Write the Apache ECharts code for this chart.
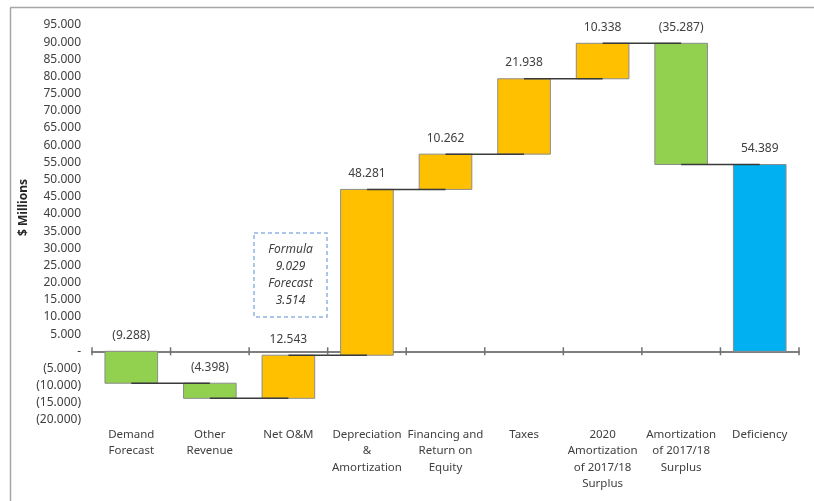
<!DOCTYPE html>
<html>
<head>
<meta charset="utf-8">
<script src="https://cdn.jsdelivr.net/npm/echarts@6/dist/echarts.min.js"></script>
<style>
  html, body { margin: 0; padding: 0; background: #fff; }
  #chart { width: 814px; height: 501px; }
</style>
</head>
<body>
<div id="chart"></div>
<script>
// categories (x axis labels, wrapped like the original)
var categories = [
  "Demand\nForecast",
  "Other\nRevenue",
  "Net O&M",
  "Depreciation\n&\nAmortization",
  "Financing and\nReturn on\nEquity",
  "Taxes",
  "2020\nAmortization\nof 2017/18\nSurplus",
  "Amortization\nof 2017/18\nSurplus",
  "Deficiency"
];
// step values, $ millions
var steps = [-9.288, -4.398, 12.543, 48.281, 10.262, 21.938, 10.338, -35.287, 54.389];
// last bar is a total, not a step
var isTotal = [false, false, false, false, false, false, false, false, true];

var formulaValue = 9.029;
var forecastValue = 3.514;

var FONT = "Noto Sans";
var TXT = "#404040";

function fmt(v) {
  if (v === 0) return "-";
  var s = Math.abs(v).toFixed(3);
  return v < 0 ? "(" + s + ")" : s;
}

// build [index, from, to, value] rows
var rows = [];
var run = 0;
steps.forEach(function (v, i) {
  if (isTotal[i]) {
    rows.push([i, 0, v, v]);
    run = v;
  } else {
    rows.push([i, run, run + v, v]);
    run = run + v;
  }
});

function barColor(i, v) {
  if (isTotal[i]) return "#00B0F0";
  return v < 0 ? "#92D050" : "#FFC000";
}

var chart = echarts.init(document.getElementById("chart"));
chart.setOption({
  animation: false,
  grid: { left: 92, right: 15, top: 25, bottom: 81 },
  xAxis: [
    {
      type: "category",
      data: categories,
      position: "bottom",
      axisLine: { show: false, onZero: false },
      axisTick: { show: false },
      axisLabel: {
        interval: 0,
        color: TXT,
        fontFamily: FONT,
        fontSize: 11.5,
        lineHeight: 16.5,
        margin: 6
      }
    },
    {
      // zero line
      type: "category",
      data: categories,
      position: "top",
      axisLine: { show: true, onZero: true, lineStyle: { color: "#7f7f7f", width: 2 } },
      axisTick: { show: false },
      axisLabel: { show: false }
    }
  ],
  yAxis: {
    type: "value",
    min: -20,
    max: 95,
    interval: 5,
    name: "$ Millions",
    nameLocation: "middle",
    nameGap: 62,
    nameRotate: 90,
    nameMoveOverlap: false,
    nameTextStyle: { color: "#262626", fontFamily: FONT, fontSize: 12, fontWeight: "bold", padding: [0, 0, 0, 30] },
    axisLine: { show: false },
    axisTick: { show: false },
    splitLine: { show: false },
    axisLabel: {
      color: TXT,
      fontFamily: FONT,
      fontSize: 12,
      margin: 11,
      formatter: fmt
    }
  },
  series: [
    {
      type: "custom",
      xAxisIndex: 0,
      data: rows,
      encode: { x: 0, y: [1, 2] },
      renderItem: function (params, api) {
        var i = api.value(0);
        var from = api.value(1);
        var to = api.value(2);
        var v = api.value(3);
        var top = api.coord([i, Math.max(from, to)]);
        var bot = api.coord([i, Math.min(from, to)]);
        var band = api.size([1, 0])[0];
        var w = band * 0.67;
        var zero = api.coord([i, 0]);
        var kids = [
          {
            type: "rect",
            shape: { x: top[0] - w / 2, y: top[1], width: w, height: bot[1] - top[1] },
            style: { fill: barColor(i, v), stroke: "#8c8c8c", lineWidth: 1 }
          },
          {
            type: "text",
            z2: 20,
            style: {
              x: top[0],
              y: top[1] - 10,
              text: fmt(v),
              fill: TXT,
              font: "12px '" + FONT + "'",
              align: "center",
              verticalAlign: "bottom"
            }
          },
          {
            // category tick crossing the zero line
            type: "line",
            z2: 30,
            shape: { x1: zero[0] - band / 2, y1: zero[1] - 4, x2: zero[0] - band / 2, y2: zero[1] + 4 },
            style: { stroke: "#6f6f6f", lineWidth: 1.5 }
          }
        ];
        if (i === rows.length - 1) {
          kids.push({
            type: "line",
            z2: 30,
            shape: { x1: zero[0] + band / 2, y1: zero[1] - 4, x2: zero[0] + band / 2, y2: zero[1] + 4 },
            style: { stroke: "#6f6f6f", lineWidth: 1.5 }
          });
        }
        if (i < rows.length - 1) {
          var p1 = api.coord([i, to]);
          var p2 = api.coord([i + 1, to]);
          kids.push({
            type: "line",
            z2: 10,
            shape: { x1: p1[0], y1: p1[1], x2: p2[0], y2: p2[1] },
            style: { stroke: "#3a3a3a", lineWidth: 1.5 }
          });
        }
        return { type: "group", children: kids };
      }
    }
  ],
  graphic: [
    { type: "line", shape: { x1: 10.5, y1: 8, x2: 10.5, y2: 501 }, style: { stroke: "#a6a6a6", lineWidth: 1.5 } },
    { type: "line", shape: { x1: 10, y1: 7.5, x2: 814, y2: 7.5 }, style: { stroke: "#a6a6a6", lineWidth: 1.5 } },
    {
      type: "rect",
      shape: { x: 254, y: 233, width: 73, height: 84 },
      style: { fill: "#fff", stroke: "#8eb4e3", lineWidth: 1.5, lineDash: [4, 3] }
    },
    {
      type: "text",
      x: 290.5,
      y: 275,
      style: {
        text: "Formula\n" + formulaValue.toFixed(3) + "\nForecast\n" + forecastValue.toFixed(3),
        fill: TXT,
        font: "italic 12px '" + FONT + "'",
        lineHeight: 17,
        align: "center",
        verticalAlign: "middle"
      }
    }
  ]
});
</script>
</body>
</html>
